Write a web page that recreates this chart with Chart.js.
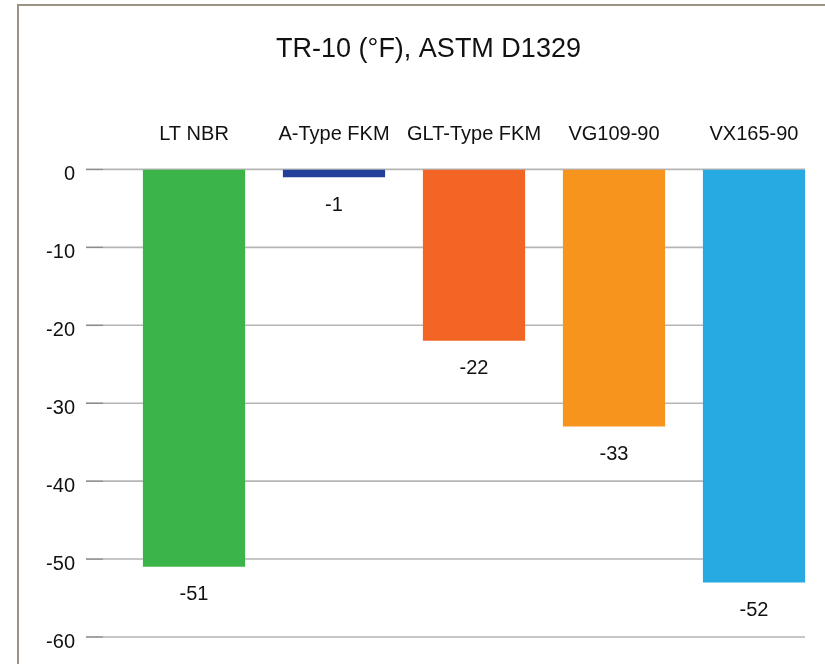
<!DOCTYPE html>
<html>
<head>
<meta charset="utf-8">
<script src="https://cdn.jsdelivr.net/npm/chart.js@4/dist/chart.umd.min.js"></script>
<style>
  body { margin: 0; background: #fff; }
  #wrap { position: relative; width: 825px; height: 664px; }
  #frame { position: absolute; left: 17px; top: 4px; right: 0; bottom: 0;
           border-top: 2px solid #9b9385; border-left: 2px solid #9b9385; pointer-events: none; }
</style>
</head>
<body>
<div id="wrap">
  <canvas id="chartOne" width="825" height="664"></canvas>
  <div id="frame"></div>
</div>
<script>
const materials = ["LT NBR", "A-Type FKM", "GLT-Type FKM", "VG109-90", "VX165-90"];
const tr10 = [-51, -1, -22, -33, -53];
const tr10Labels = ["-51", "-1", "-22", "-33", "-52"];
const barColors = ['#3bb54a', '#243f99', '#f26524', '#f7941e', '#27aae1'];
const yTicks = [0, -10, -20, -30, -40, -50, -60];
const chartTitle = 'TR-10 (°F), ASTM D1329';

const font = '"Liberation Sans", Arial, Helvetica, sans-serif';

// horizontal rules with a darker stub on the left, like the original
const gridPlugin = {
    id: 'gridRules',
    beforeDatasetsDraw(chart) {
        const ctx = chart.ctx;
        const area = chart.chartArea;
        const y = chart.scales.y;
        ctx.save();
        ctx.lineWidth = 1.6;
        yTicks.forEach(function (v) {
            const py = y.getPixelForValue(v);
            ctx.strokeStyle = '#b5b5b5';
            ctx.beginPath();
            ctx.moveTo(area.left - 21, py);
            ctx.lineTo(area.right - 19, py);
            ctx.stroke();
            ctx.strokeStyle = '#8c8c8c';
            ctx.beginPath();
            ctx.moveTo(area.left - 38, py);
            ctx.lineTo(area.left - 21, py);
            ctx.stroke();
        });
        ctx.restore();
    }
};

// value text under each bar + title centred on the framed box
const valuePlugin = {
    id: 'valueText',
    afterDatasetsDraw(chart) {
        const ctx = chart.ctx;
        const meta = chart.getDatasetMeta(0);
        ctx.save();
        ctx.font = '20px ' + font;
        ctx.fillStyle = '#111';
        ctx.textAlign = 'center';
        ctx.textBaseline = 'middle';
        meta.data.forEach(function (bar, i) {
            ctx.fillText(tr10Labels[i], bar.x, bar.y + 28);
        });
        const t = chart.titleBlock;
        ctx.font = '27px ' + font;
        ctx.fillText(chartTitle, chart.width / 2 + 16, (t.top + t.bottom) / 2 + 13);
        ctx.restore();
    }
};

let trChart = new Chart(document.getElementById("chartOne"), {
    type: 'bar',
    data: {
        labels: materials,
        datasets: [{
            label: 'TR-10',
            data: tr10,
            backgroundColor: barColors,
            borderWidth: 0,
            barPercentage: 0.73,
            categoryPercentage: 1
        }]
    },
    options: {
        responsive: false,
        animation: false,
        layout: { padding: { left: 0, right: 1, top: 0, bottom: 27 } },
        plugins: {
            legend: { display: false },
            tooltip: { enabled: false },
            title: {
                display: true,
                text: chartTitle,
                color: 'rgba(0,0,0,0)',
                font: { family: font, size: 27, weight: 'normal' },
                padding: { top: 33, bottom: 8 }
            }
        },
        scales: {
            x: {
                position: 'top',
                grid: { display: false, drawTicks: false },
                border: { display: false },
                ticks: { color: '#111', font: { family: font, size: 20 }, padding: 23,
                         maxRotation: 0, minRotation: 0, autoSkip: false },
                afterFit(scale) {
                    scale.height = 169 - 73;
                    scale.paddingLeft = 0;
                    scale.paddingRight = 0;
                }
            },
            y: {
                min: -60,
                max: 0,
                grid: { display: false, drawTicks: false },
                border: { display: false },
                afterBuildTicks(scale) { scale.ticks = yTicks.map(v => ({ value: v })); },
                ticks: { color: '#111', font: { family: font, size: 20 }, padding: 49, labelOffset: 5 },
                afterFit(scale) {
                    scale.width = 124;
                    scale.paddingTop = 0;
                    scale.paddingBottom = 0;
                }
            }
        }
    },
    plugins: [gridPlugin, valuePlugin]
});
</script>
</body>
</html>
